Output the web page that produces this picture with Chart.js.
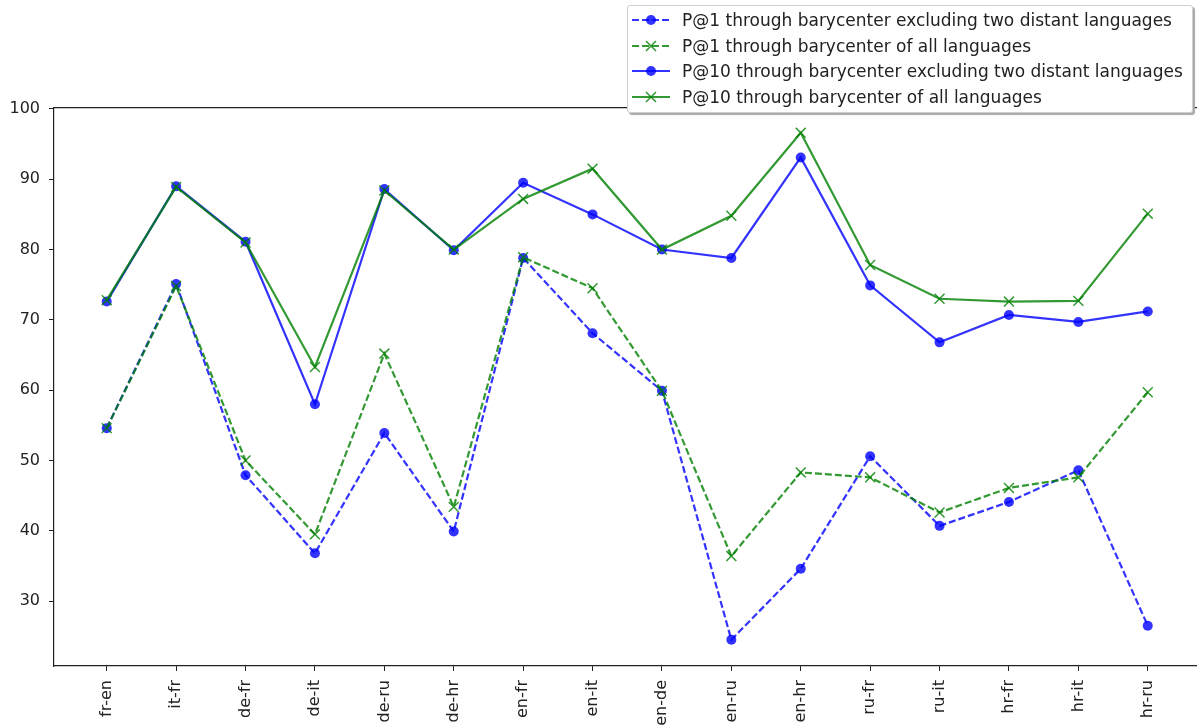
<!DOCTYPE html>
<html>
<head>
<meta charset="utf-8">
<script src="https://cdn.jsdelivr.net/npm/chart.js@4.4.1/dist/chart.umd.min.js"></script>
<style>
  html, body { margin: 0; padding: 0; background: #fff; overflow: hidden; }
  #wrap { position: relative; width: 1209px; height: 726px; }
  #legend {
    position: absolute; left: 627px; top: 5px; width: 564px; height: 106px;
    background: #fff; border: 1px solid #d0d0d0; border-radius: 3px;
    box-shadow: 2px 2px 1px #a8a8a8;
    font-family: "DejaVu Sans", sans-serif; font-size: 17px; color: #222;
  }
  .row { position: absolute; left: 0; height: 20px; display: flex; align-items: center; white-space: nowrap; }
  .row svg { margin-left: 4px; margin-right: 12px; }
</style>
</head>
<body>
<div id="wrap">
  <canvas id="myChart" width="1209" height="726"></canvas>
  <div id="legend"></div>
</div>
<script>
const categories = ['fr-en','it-fr','de-fr','de-it','de-ru','de-hr','en-fr','en-it','en-de','en-ru','en-hr','ru-fr','ru-it','hr-fr','hr-it','hr-ru'];
const p1Excl  = [54.6, 75.1, 47.9, 36.8, 53.9, 39.9, 78.8, 68.1, 59.9, 24.5, 34.6, 50.6, 40.7, 44.1, 48.6, 26.5];
const p1All   = [54.6, 74.8, 50.0, 39.5, 65.2, 43.4, 78.9, 74.5, 59.9, 36.4, 48.3, 47.6, 42.6, 46.1, 47.6, 59.7];
const p10Excl = [72.6, 89.0, 81.1, 58.0, 88.6, 79.9, 89.5, 85.0, 80.0, 78.8, 93.1, 74.9, 66.8, 70.7, 69.7, 71.2];
const p10All  = [72.8, 88.9, 81.0, 63.3, 88.4, 80.0, 87.2, 91.5, 80.0, 84.8, 96.6, 77.8, 73.0, 72.6, 72.7, 85.1];
const yTicks = [30, 40, 50, 60, 70, 80, 90, 100];

const blue = 'rgba(0,0,255,0.8)';
const green = 'rgba(0,128,0,0.8)';
const axisColor = '#222';

function points(values) {
  return values.map((v, i) => ({ x: i, y: v }));
}

const datasets = [
  { label: 'P@1 through barycenter excluding two distant languages', data: points(p1Excl),
    borderColor: blue, borderDash: [7, 3], pointStyle: 'circle', pointRadius: 5, order: 4 },
  { label: 'P@1 through barycenter of all languages', data: points(p1All),
    borderColor: green, borderDash: [7, 3], pointStyle: 'crossRot', pointRadius: 7, order: 3 },
  { label: 'P@10 through barycenter excluding two distant languages', data: points(p10Excl),
    borderColor: blue, borderDash: [], pointStyle: 'circle', pointRadius: 5, order: 2 },
  { label: 'P@10 through barycenter of all languages', data: points(p10All),
    borderColor: green, borderDash: [], pointStyle: 'crossRot', pointRadius: 7, order: 1 }
];
datasets.forEach(d => {
  d.borderWidth = 2.2;
  d.backgroundColor = d.borderColor;
  d.pointBorderWidth = d.pointStyle === 'crossRot' ? 1.5 : 0;
  d.pointBorderColor = d.borderColor;
  d.pointBackgroundColor = d.borderColor;
  d.tension = 0;
  d.fill = false;
});

const tickFont = { family: 'DejaVu Sans', size: 16 };

const ctx = document.getElementById('myChart');
new Chart(ctx, {
  type: 'line',
  data: { datasets: datasets },
  options: {
    responsive: false,
    animation: false,
    layout: { padding: 0 },
    plugins: { legend: { display: false }, tooltip: { enabled: false } },
    scales: {
      x: {
        type: 'linear',
        min: -0.76,
        max: 15.76,
        afterBuildTicks: s => { s.ticks = categories.map((c, i) => ({ value: i })); },
        afterFit: s => { s.height = 60; },
        ticks: {
          autoSkip: false, minRotation: 90, maxRotation: 90, padding: 9,
          color: axisColor, font: tickFont,
          callback: v => categories[v]
        },
        grid: { drawOnChartArea: false, drawTicks: true, tickLength: 5, tickColor: axisColor },
        border: { color: axisColor, width: 1.2 }
      },
      x2: {
        type: 'linear',
        position: 'top',
        min: -0.76,
        max: 15.76,
        afterFit: s => { s.height = 108; },
        ticks: { display: false },
        grid: { display: false, drawTicks: false },
        border: { color: axisColor, width: 1.2 }
      },
      y: {
        type: 'linear',
        min: 20.77,
        max: 100.13,
        afterBuildTicks: s => { s.ticks = yTicks.map(v => ({ value: v })); },
        afterFit: s => { s.width = 54; },
        ticks: { color: axisColor, font: tickFont, padding: 9 },
        grid: { drawOnChartArea: false, drawTicks: true, tickLength: 5, tickColor: axisColor },
        border: { color: axisColor, width: 1.2 }
      }
    }
  }
});

// legend as html, built from the datasets
const legendEl = document.getElementById('legend');
datasets.forEach((d, i) => {
  const row = document.createElement('div');
  row.className = 'row';
  row.style.top = (4 + i * 25.7) + 'px';
  const dash = d.borderDash.length ? 'stroke-dasharray="7,3"' : '';
  let marker;
  if (d.pointStyle === 'circle') {
    marker = `<circle cx="19" cy="8" r="5" fill="${d.borderColor}"/>`;
  } else {
    marker = `<path d="M14 3 L24 13 M24 3 L14 13" stroke="${d.borderColor}" stroke-width="1.5"/>`;
  }
  row.innerHTML = `<svg width="38" height="16"><line x1="0" y1="8" x2="38" y2="8" stroke="${d.borderColor}" stroke-width="2.2" ${dash}/>${marker}</svg><span>${d.label}</span>`;
  legendEl.appendChild(row);
});
</script>
</body>
</html>
